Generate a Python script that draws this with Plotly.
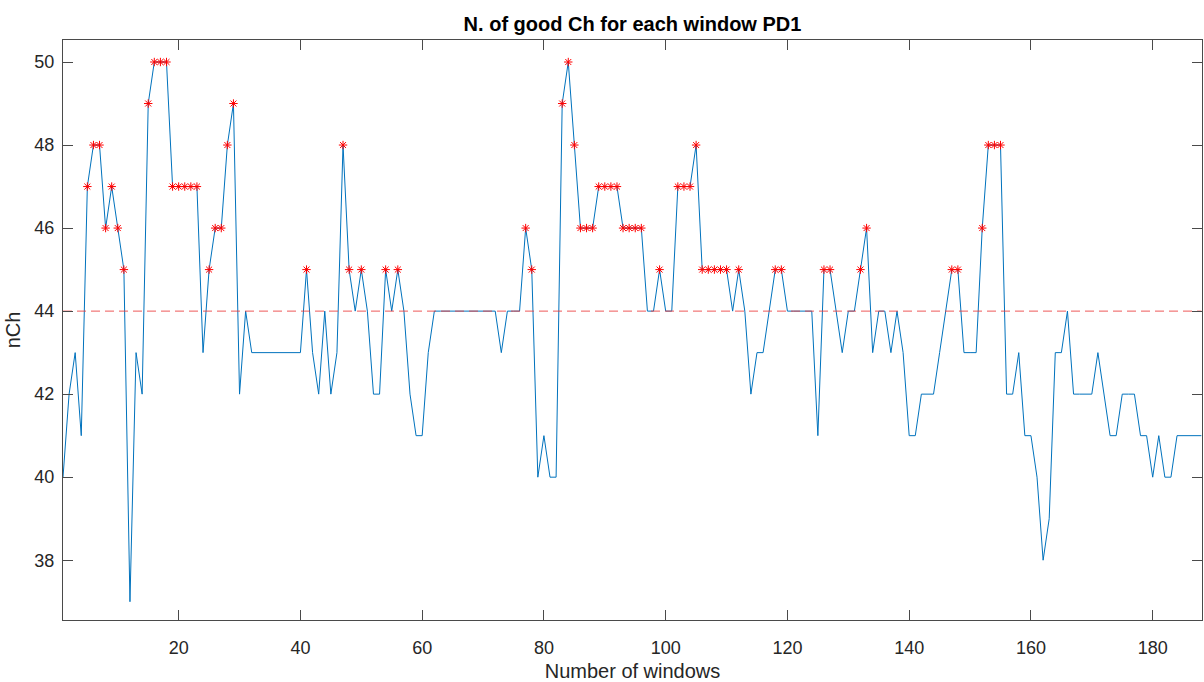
import plotly.graph_objects as go

# Number of good channels per analysis window (PD1)
windows = list(range(1, 189))
n_channels = [
    40, 42, 43, 41, 47, 48, 48, 46, 47, 46,      # 1-10
    45, 37, 43, 42, 49, 50, 50, 50, 47, 47,      # 11-20
    47, 47, 47, 43, 45, 46, 46, 48, 49, 42,      # 21-30
    44, 43, 43, 43, 43, 43, 43, 43, 43, 43,      # 31-40
    45, 43, 42, 44, 42, 43, 48, 45, 44, 45,      # 41-50
    44, 42, 42, 45, 44, 45, 44, 42, 41, 41,      # 51-60
    43, 44, 44, 44, 44, 44, 44, 44, 44, 44,      # 61-70
    44, 44, 43, 44, 44, 44, 46, 45, 40, 41,      # 71-80
    40, 40, 49, 50, 48, 46, 46, 46, 47, 47,      # 81-90
    47, 47, 46, 46, 46, 46, 44, 44, 45, 44,      # 91-100
    44, 47, 47, 47, 48, 45, 45, 45, 45, 45,      # 101-110
    44, 45, 44, 42, 43, 43, 44, 45, 45, 44,      # 111-120
    44, 44, 44, 44, 41, 45, 45, 44, 43, 44,      # 121-130
    44, 45, 46, 43, 44, 44, 43, 44, 43, 41,      # 131-140
    41, 42, 42, 42, 43, 44, 45, 45, 43, 43,      # 141-150
    43, 46, 48, 48, 48, 42, 42, 43, 41, 41,      # 151-160
    40, 38, 39, 43, 43, 44, 42, 42, 42, 42,      # 161-170
    43, 42, 41, 41, 42, 42, 42, 41, 41, 40,      # 171-180
    41, 40, 40, 41, 41, 41, 41, 41,              # 181-188
]
threshold = 44

x_ticks = [20, 40, 60, 80, 100, 120, 140, 160, 180]
y_ticks = [38, 40, 42, 44, 46, 48, 50]

# windows above the threshold get a star marker
good_x = [w for w, n in zip(windows, n_channels) if n > threshold]
good_y = [n for n in n_channels if n > threshold]

fig = go.Figure()

fig.add_trace(go.Scatter(
    x=windows, y=n_channels, mode="lines",
    line=dict(color="#0072BD", width=1),
    showlegend=False, hoverinfo="x+y",
))

fig.add_trace(go.Scatter(
    x=[windows[0], windows[-1]], y=[threshold, threshold], mode="lines",
    line=dict(color="rgba(235,60,60,0.85)", width=1, dash="9px,5px"),
    showlegend=False, hoverinfo="skip",
))

fig.add_trace(go.Scatter(
    x=good_x, y=good_y, mode="markers",
    marker=dict(symbol="asterisk-open", size=7, color="#FF0000",
                line=dict(color="#FF0000", width=1)),
    showlegend=False,
))

axis_common = dict(
    showgrid=False, zeroline=False,
    showline=True, linecolor="#4a4a4a", linewidth=1, mirror="ticks",
    ticks="inside", ticklen=10, tickwidth=1, tickcolor="#4a4a4a",
    tickfont=dict(family="Liberation Sans, Arial, sans-serif", size=18, color="#262626"),
)

fig.update_layout(
    width=1204, height=682,
    margin=dict(l=63, r=1, t=40, b=55),
    paper_bgcolor="white", plot_bgcolor="white",
    title=dict(
        text="<b>N. of good Ch for each window PD1</b>",
        font=dict(family="Liberation Sans, Arial, sans-serif", size=20, color="#000000"),
        x=0.5, xref="paper", xanchor="center",
        y=1 - 24 / 682, yref="container", yanchor="middle",
    ),
    xaxis=dict(
        range=[1, 188.1], tickvals=x_ticks,
        ticklabelstandoff=11,
        title=dict(text="Number of windows", standoff=9,
                   font=dict(family="Liberation Sans, Arial, sans-serif", size=20, color="#262626")),
        **axis_common,
    ),
    yaxis=dict(
        range=[36.56, 50.53], tickvals=y_ticks,
        ticklabelstandoff=4,
        title=dict(text="nCh", standoff=8,
                   font=dict(family="Liberation Sans, Arial, sans-serif", size=20, color="#262626")),
        **axis_common,
    ),
)

fig.write_html("out.html")
